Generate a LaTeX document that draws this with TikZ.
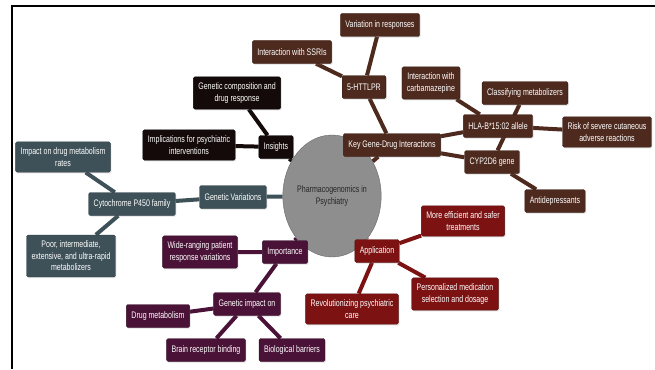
\documentclass[tikz,border=0pt]{standalone}
\usepackage{fontspec}
\setmainfont{Liberation Sans}[FakeStretch=0.74]
\usetikzlibrary{shapes.geometric, shadows, backgrounds}
\definecolor{brownc}{HTML}{4E2A1E}
\definecolor{blackc}{HTML}{150A0A}
\definecolor{slatec}{HTML}{3E5158}
\definecolor{plumc}{HTML}{4B1238}
\definecolor{redc}{HTML}{7D1212}
\definecolor{hubc}{HTML}{8E8E8E}
\tikzstyle{topic} = [rectangle, rounded corners=1.5pt, text=white, font=\fontsize{9.5}{11.5}\selectfont, align=center, inner xsep=5pt, inner ysep=6pt, minimum height=23pt, drop shadow={opacity=0.25, shadow xshift=1pt, shadow yshift=-1.2pt}]
\tikzstyle{brownbox} = [topic, fill=brownc, draw=brownc!70!black]
\tikzstyle{blackbox} = [topic, fill=blackc, draw=black]
\tikzstyle{slatebox} = [topic, fill=slatec, draw=slatec!70!black]
\tikzstyle{plumbox} = [topic, fill=plumc, draw=plumc!70!black]
\tikzstyle{redbox} = [topic, fill=redc, draw=redc!70!black]
\tikzstyle{core} = [ellipse, fill=hubc, draw=hubc!75!black, minimum width=78pt, minimum height=122pt, inner sep=0pt, align=center, text=black!85, font=\fontsize{9.5}{12}\selectfont]
\tikzstyle{link} = [line width=4pt]

\begin{document}
\begin{tikzpicture}[x=1pt, y=-1pt]
	\useasboundingbox (0,0) rectangle (655,369);
	\coordinate (framebl) at (12,369);
	\coordinate (frametl) at (12,6);
	\coordinate (frametr) at (655,6);
	\draw[line width=1.5pt] (framebl) -- (frametl) -- (frametr);

	\node[core] (hub) at (332,196) {Pharmacogenomics in\\Psychiatry};
	% key gene-drug interactions
	\node[brownbox] (keygene) at (392,145) {Key Gene-Drug Interactions};
	\node[brownbox] (httlpr) at (364,87) {5-HTTLPR};
	\node[brownbox] (ssri) at (292,52) {Interaction with SSRIs};
	\node[brownbox] (variation) at (380,25) {Variation in responses};
	\node[brownbox] (hla) at (498,126) {HLA-B*15:02 allele};
	\node[brownbox] (carba) at (431,83) {Interaction with\\carbamazepine};
	\node[brownbox] (risk) at (607,132) {Risk of severe cutaneous\\adverse reactions};
	\node[brownbox] (cyp) at (492,162) {CYP2D6 gene};
	\node[brownbox] (classify) at (525,93) {Classifying metabolizers};
	\node[brownbox] (antidep) at (555,201) {Antidepressants};
	% insights
	\node[blackbox] (insights) at (276,147) {Insights};
	\node[blackbox] (composition) at (237,93) {Genetic composition and\\drug response};
	\node[blackbox] (implications) at (189,145) {Implications for psychiatric\\interventions};
	% genetic variations
	\node[slatebox] (variations) at (233,197) {Genetic Variations};
	\node[slatebox] (cytochrome) at (132,204) {Cytochrome P450 family};
	\node[slatebox] (impact) at (63,157) {Impact on drug metabolism\\rates};
	\node[slatebox] (metabolizers) at (71,256) {Poor, intermediate,\\extensive, and ultra-rapid\\metabolizers};
	% importance
	\node[plumbox] (importance) at (285,252) {Importance};
	\node[plumbox] (wide) at (200,252) {Wide-ranging patient\\response variations};
	\node[plumbox] (geneimpact) at (247,304) {Genetic impact on};
	\node[plumbox] (drugmet) at (158,316) {Drug metabolism};
	\node[plumbox] (brain) at (206,350) {Brain receptor binding};
	\node[plumbox] (barriers) at (292,350) {Biological barriers};
	% application
	\node[redbox] (application) at (377,251) {Application};
	\node[redbox] (efficient) at (463,221) {More efficient and safer\\treatments};
	\node[redbox] (personal) at (455,294) {Personalized medication\\selection and dosage};
	\node[redbox] (revolution) at (352,309) {Revolutionizing psychiatric\\care};

	\begin{pgfonlayer}{background}
		\draw[link, brownc] (hub) -- (keygene) (keygene) -- (httlpr) (httlpr) -- (ssri) (httlpr) -- (variation)
			(keygene) -- (hla) (hla) -- (carba) (hla) -- (risk)
			(keygene) -- (cyp) (cyp) -- (classify) (cyp) -- (antidep);
		\draw[link, blackc] (hub) -- (insights) (insights) -- (composition) (insights) -- (implications);
		\draw[link, slatec] (hub) -- (variations) (variations) -- (cytochrome) (cytochrome) -- (impact) (cytochrome) -- (metabolizers);
		\draw[link, plumc] (hub) -- (importance) (importance) -- (wide) (importance) -- (geneimpact)
			(geneimpact) -- (drugmet) (geneimpact) -- (brain) (geneimpact) -- (barriers);
		\draw[link, redc] (hub) -- (application) (application) -- (efficient) (application) -- (personal) (application) -- (revolution);
	\end{pgfonlayer}
\end{tikzpicture}
\end{document}
